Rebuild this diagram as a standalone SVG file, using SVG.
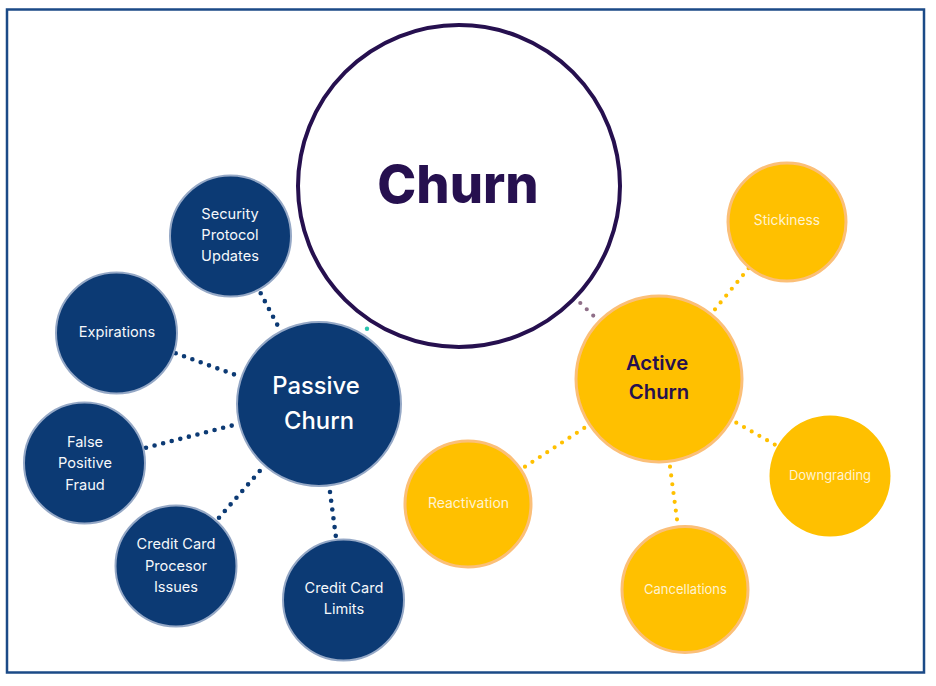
<svg xmlns="http://www.w3.org/2000/svg" width="936" height="686" viewBox="0 0 936 686">
<style>
text{font-family:"Inter","Liberation Sans",sans-serif;text-anchor:middle}
.b{fill:#0c3a74;stroke:#95a8c6;stroke-width:2}
.y{fill:#ffc000;stroke:#fbbf78;stroke-width:3}
.t{fill:#f6f8fb;font-size:14.6px}
.ty{fill:#fff3d0;font-size:13.5px}
.db{fill:none;stroke:#0c3a74;stroke-width:4.6;stroke-linecap:round;stroke-dasharray:0 8.85}
.dy{fill:none;stroke:#ffc000;stroke-width:4.2;stroke-linecap:round;stroke-dasharray:0 8.85}
</style>
<rect width="936" height="686" fill="#fff"/>
<rect x="7" y="9.500" width="917" height="663" fill="#fff" stroke="#1b4a87" stroke-width="2.500"/>
<g id="connectors">
<path class="db" d="M260.700 293.300L277.500 325.200"/>
<path class="db" d="M175.700 353.300L235.200 374.800"/>
<path class="db" d="M146 447.700L232.900 425.300"/>
<path class="db" d="M219 517.700L260.100 470.600"/>
<path class="db" d="M330 492L335.800 536.200"/>
<path class="dy" d="M715 309.300L749.100 267.600"/>
<path class="dy" d="M670 466.700L677.100 520.200"/>
<path class="dy" d="M525 466.700L584.800 427.600"/>
<path class="dy" d="M736.300 422.700L775.100 444.800"/>
<path d="M580.300 303L593.500 315.800" fill="none" stroke="#8f6f88" stroke-width="4.200" stroke-linecap="round" stroke-dasharray="0 9"/>
<circle cx="367" cy="328.700" r="2.200" fill="#2cc5b0"/>
</g>
<g id="churn"><circle cx="459" cy="186" r="161" fill="#fff" stroke="#26104f" stroke-width="4"/><text x="458" y="202.500" font-size="52.500" font-weight="800" fill="#26104f">Churn</text></g>
<g id="passive"><circle class="b" cx="319" cy="404" r="82"/><text x="316" y="394" font-size="23.800" font-weight="500" fill="#fff">Passive</text><text x="319" y="429" font-size="23.800" font-weight="500" fill="#fff">Churn</text></g>
<g id="security"><circle class="b" cx="230.500" cy="236" r="60.500"/><text class="t" x="230" y="219">Security</text><text class="t" x="230" y="240">Protocol</text><text class="t" x="230" y="261">Updates</text></g>
<g id="expirations"><circle class="b" cx="116.500" cy="333" r="60.500"/><text class="t" x="117" y="337">Expirations</text></g>
<g id="false"><circle class="b" cx="84.500" cy="463" r="60.500"/><text class="t" x="85" y="446.500">False</text><text class="t" x="85" y="468">Positive</text><text class="t" x="85" y="489.500">Fraud</text></g>
<g id="processor"><circle class="b" cx="176" cy="566" r="60.500"/><text class="t" x="176" y="549">Credit Card</text><text class="t" x="176" y="570.500">Procesor</text><text class="t" x="176" y="592">Issues</text></g>
<g id="limits"><circle class="b" cx="343.500" cy="600" r="60.500"/><text class="t" x="344" y="593">Credit Card</text><text class="t" x="344" y="614">Limits</text></g>
<g id="active"><circle class="y" cx="659" cy="379" r="83"/><text x="657" y="370" font-size="20.300" font-weight="600" fill="#26104f">Active</text><text x="659" y="399" font-size="20.300" font-weight="600" fill="#26104f">Churn</text></g>
<g id="stickiness"><circle class="y" cx="787" cy="222" r="59"/><text class="ty" x="787" y="225" style="font-size:13.800px">Stickiness</text></g>
<g id="downgrading"><circle cx="830" cy="476" r="60.500" fill="#ffc000"/><text class="ty" x="830" y="480" style="font-size:13px">Downgrading</text></g>
<g id="cancellations"><circle class="y" cx="685" cy="589.500" r="63"/><text class="ty" x="685.500" y="593.500" style="font-size:13px">Cancellations</text></g>
<g id="reactivation"><circle class="y" cx="468" cy="504" r="63"/><text class="ty" x="468.500" y="508" style="font-size:14px">Reactivation</text></g>
</svg>
